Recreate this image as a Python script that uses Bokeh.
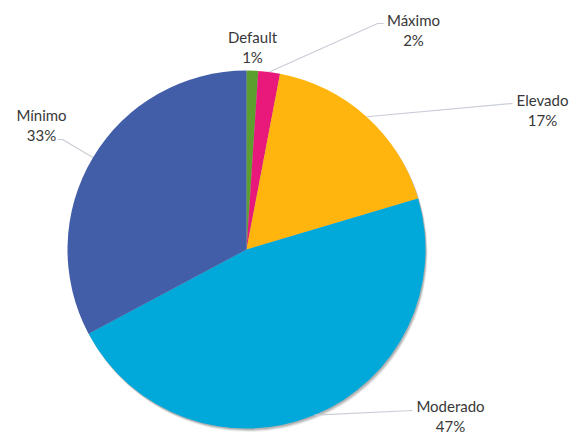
import numpy as np
from bokeh.plotting import figure
from bokeh.models import Range1d, ColumnDataSource
from bokeh.core.properties import value
from bokeh.embed import file_html
from bokeh.resources import INLINE

# ---- data ----
categories = ["Default", "Máximo", "Elevado", "Moderado", "Mínimo"]
shares = [1.05, 1.95, 17.4, 46.8, 32.8]
colors = ["#5B9F2F", "#E8197A", "#FFB50D", "#00A9DA", "#425EA8"]

# ---- layout (page pixel coordinates) ----
W, H = 573, 434
cx, cy_page, R = 246, 249, 179
cy = H - cy_page
label_pos = [(252, 36), (413, 19), (542, 99), (450, 405), (41, 114)]  # centre of first line
line_gap = 20
leader_end = [None, [(377, 23), (383, 23)], [(512, 103)], [(412, 410)], [(62, 139), (57, 139)]]

p = figure(width=W, height=H, output_backend="svg", toolbar_location=None,
           x_range=Range1d(0, W), y_range=Range1d(0, H), min_border=0)
p.axis.visible = False
p.grid.visible = False
p.outline_line_color = None
p.background_fill_color = "white"

vals = np.array(shares, dtype=float)
frac = vals / vals.sum()
cum_end = np.cumsum(frac)
cum_start = cum_end - frac
start = np.pi / 2 - 2 * np.pi * cum_end
end = np.pi / 2 - 2 * np.pi * cum_start
mid = (cum_start + cum_end) / 2

# soft shadow
for off, a in [(3.5, 0.10), (2.5, 0.18), (1.5, 0.25)]:
    p.circle(x=[cx + off * 0.6], y=[cy - off], radius=R, fill_color="#555555",
             fill_alpha=a, line_color=None)

src = ColumnDataSource(dict(start=start, end=end, color=colors))
p.wedge(x=cx, y=cy, radius=R, start_angle="start", end_angle="end",
        direction="anticlock", fill_color="color", line_color=None, source=src)

# leader lines from slice mid-angle on the edge
for i, ends in enumerate(leader_end):
    if not ends:
        continue
    ang = 2 * np.pi * mid[i]
    ex = cx + R * np.sin(ang)
    ey = cy + R * np.cos(ang)
    xs = [ex] + [e[0] for e in ends]
    ys = [ey] + [H - e[1] for e in ends]
    p.line(xs, ys, line_color="#C9CDD6", line_width=1.2)

names_x = [lp[0] for lp in label_pos]
names_y = [H - lp[1] for lp in label_pos]
pct_y = [H - lp[1] - line_gap for lp in label_pos]
pct = [f"{round(v)}%" for v in vals / vals.sum() * 100]

p.text(x=names_x, y=names_y, text=categories, text_align="center", text_baseline="middle",
       text_font=value("Lato"), text_font_size="15px", text_color="#383838")
p.text(x=names_x, y=pct_y, text=pct, text_align="center", text_baseline="middle",
       text_font=value("Lato"), text_font_size="15px", text_color="#383838")

open("out.html", "w").write(file_html(p, INLINE))
